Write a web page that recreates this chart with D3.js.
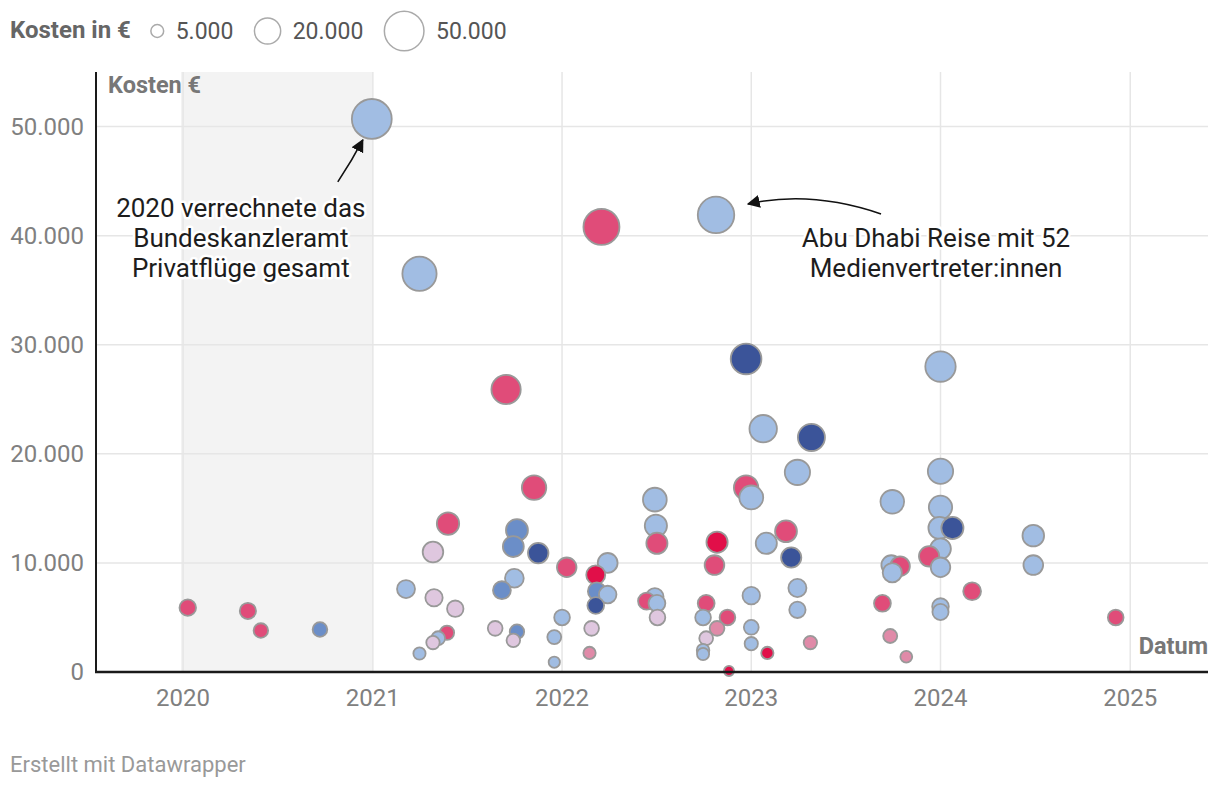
<!DOCTYPE html>
<html>
<head>
<meta charset="utf-8">
<script src="https://cdn.jsdelivr.net/npm/d3@7"></script>
<style>
  body { margin: 0; background: #fff; font-family: Roboto, "Noto Sans", sans-serif; }
  .tick-label { fill: #808080; font-size: 24px; }
  .axis-title { fill: #777; font-size: 23.5px; font-weight: bold; }
  .grid { stroke: #e6e6e6; stroke-width: 1.5; }
  .dot { stroke: #999; stroke-width: 1.8; }
  .note { fill: #1d1d1d; font-size: 26px; paint-order: stroke; stroke: #fff; stroke-width: 5px; stroke-linejoin: round; }
</style>
</head>
<body>
<svg id="chart" width="1220" height="788"></svg>
<script>
// Reisekosten je Flug: Datum, Kosten in Euro, Farbgruppe
const DATEN = [
  "2020-01-10", "2020-05-05", "2020-05-30", "2020-09-21", "2020-12-30",
  "2021-04-01", "2021-03-06", "2021-04-01", "2021-04-27", "2021-04-29",
  "2021-04-27", "2021-05-07", "2021-05-24", "2021-05-26", "2021-06-09",
  "2021-08-25", "2021-09-29", "2021-10-06", "2021-09-07", "2021-10-01",
  "2021-09-29", "2021-10-06", "2021-11-16", "2021-11-08", "2021-09-15",
  "2022-01-10", "2022-01-01", "2021-12-17", "2021-12-17", "2022-03-07",
  "2022-03-30", "2022-03-09", "2022-03-30", "2022-03-07", "2022-02-27",
  "2022-02-23", "2022-03-18", "2022-06-29", "2022-07-01", "2022-07-03",
  "2022-06-29", "2022-07-03", "2022-06-13", "2022-07-04", "2022-10-27",
  "2022-10-22", "2022-10-25", "2022-10-06", "2022-09-30", "2022-11-16",
  "2022-10-27", "2022-10-06", "2022-09-30", "2022-09-30", "2022-11-19",
  "2022-12-22", "2023-01-01", "2022-12-22", "2023-01-01", "2023-01-01",
  "2023-01-01", "2023-01-24", "2023-01-30", "2023-02-01", "2023-03-09",
  "2023-03-19", "2023-03-31", "2023-03-31", "2023-03-31", "2023-04-27",
  "2023-04-25", "2023-09-30", "2023-09-28", "2023-09-30", "2023-10-15",
  "2023-09-11", "2023-09-26", "2023-10-27", "2024-01-01", "2024-01-01",
  "2024-01-01", "2023-12-30", "2024-01-24", "2024-01-01", "2023-12-10",
  "2024-01-01", "2024-03-02", "2024-01-01", "2024-01-01", "2024-06-28",
  "2024-06-28", "2024-12-04"
];

const KOSTEN = [
  5900, 5600, 3800, 3900, 50700,
  36500, 7600, 1700, 11000, 6800,
  2700, 3100, 3600, 13600, 5800,
  4000, 2900, 3700, 7500, 8600,
  11500, 13000, 10900, 16900, 25900,
  9600, 5000, 3200, 900, 8900,
  10000, 7400, 7100, 6100, 4000,
  1750, 40800, 15800, 13400, 11800,
  6900, 6300, 6500, 5000, 11900,
  9800, 41900, 6300, 5000, 5000,
  4000, 3100, 2000, 1650, 100,
  16900, 16000, 28700, 7000, 4100,
  2600, 22300, 11800, 1750, 12900,
  10500, 18300, 7700, 5700, 21500,
  2700, 15600, 9800, 9100, 9700,
  6300, 3300, 1400, 18400, 28000,
  15100, 13200, 13200, 11300, 10600,
  9600, 7400, 6000, 5500, 12500,
  9800, 5000
];

const GRUPPE = [
  "rosa", "rosa", "rosa", "mittelblau", "hellblau",
  "hellblau", "hellblau", "hellblau", "flieder", "flieder",
  "flieder", "hellblau", "rosa", "rosa", "flieder",
  "flieder", "flieder", "mittelblau", "mittelblau", "hellblau",
  "mittelblau", "mittelblau", "dunkelblau", "rosa", "rosa",
  "rosa", "hellblau", "hellblau", "hellblau", "rot",
  "hellblau", "mittelblau", "hellblau", "dunkelblau", "flieder",
  "altrosa", "rosa", "hellblau", "hellblau", "rosa",
  "hellblau", "hellblau", "rosa", "flieder", "rot",
  "rosa", "hellblau", "rosa", "hellblau", "rosa",
  "altrosa", "flieder", "hellblau", "hellblau", "rot",
  "rosa", "hellblau", "dunkelblau", "hellblau", "hellblau",
  "hellblau", "hellblau", "hellblau", "rot", "rosa",
  "dunkelblau", "hellblau", "hellblau", "hellblau", "dunkelblau",
  "altrosa", "hellblau", "hellblau", "hellblau", "rosa",
  "rosa", "altrosa", "altrosa", "hellblau", "hellblau",
  "hellblau", "hellblau", "dunkelblau", "hellblau", "rosa",
  "hellblau", "rosa", "hellblau", "hellblau", "hellblau",
  "hellblau", "rosa"
];

const GRUPPEN = ["hellblau", "mittelblau", "dunkelblau", "rosa", "rot", "altrosa", "flieder"];
const FARBEN = ["#a1bde3", "#6b8ec8", "#3b5499", "#e04c79", "#e10f49", "#e08aa8", "#dfc7df"];

const Y_TICKS = [0, 10000, 20000, 30000, 40000, 50000];
const X_TICKS = [2020, 2021, 2022, 2023, 2024, 2025];
const LEGENDE = [5000, 20000, 50000];

const SVG = d3.select("#chart");
const WIDTH = 1220;
const MARGIN = { top: 72, bottom: 116, left: 96, right: 12 };
const HEIGHT = 788;

const parse = d3.timeParse("%Y-%m-%d");
const DE = d3.formatLocale({ decimal: ",", thousands: ".", grouping: [3], currency: ["", " €"] });
const fmt = DE.format(",.0f");

const SCALE_X = d3.scaleTime()
  .domain([parse("2019-07-17"), parse("2025-05-31")])
  .range([MARGIN.left, WIDTH - MARGIN.right]);

const SCALE_Y = d3.scaleLinear()
  .domain([0, 55000])
  .range([HEIGHT - MARGIN.bottom, MARGIN.top]);

// area grows linearly with cost, with a minimum dot size
const AREA = d3.scaleLinear().domain([0, 50000]).range([5 * 5, 19.8 * 19.8]);
const radius = v => Math.sqrt(AREA(v));

const COLOR = d3.scaleOrdinal().domain(GRUPPEN).range(FARBEN);

const DATA = DATEN.map((d, i) => ({ date: parse(d), value: KOSTEN[i], group: GRUPPE[i] }));

const y0 = SCALE_Y(0);
const yTop = MARGIN.top;

// shaded year 2020
SVG.append("rect")
  .attr("x", SCALE_X(parse("2019-12-28")))
  .attr("y", yTop)
  .attr("width", SCALE_X(parse("2021-01-01")) - SCALE_X(parse("2019-12-28")))
  .attr("height", y0 - yTop)
  .attr("fill", "#f3f3f3");

// gridlines
SVG.selectAll("line.hgrid")
  .data(Y_TICKS.slice(1))
  .enter()
  .append("line")
  .attr("class", "grid")
  .attr("x1", MARGIN.left)
  .attr("x2", WIDTH - MARGIN.right)
  .attr("y1", d => SCALE_Y(d))
  .attr("y2", d => SCALE_Y(d));

SVG.selectAll("line.vgrid")
  .data(X_TICKS)
  .enter()
  .append("line")
  .attr("class", "grid")
  .attr("x1", d => SCALE_X(new Date(d, 0, 1)))
  .attr("x2", d => SCALE_X(new Date(d, 0, 1)))
  .attr("y1", yTop)
  .attr("y2", y0);

// tick labels
SVG.selectAll("text.ylab")
  .data(Y_TICKS)
  .enter()
  .append("text")
  .attr("class", "tick-label")
  .attr("x", 84)
  .attr("y", d => SCALE_Y(d) + 8)
  .attr("text-anchor", "end")
  .text(d => fmt(d));

SVG.selectAll("text.xlab")
  .data(X_TICKS)
  .enter()
  .append("text")
  .attr("class", "tick-label")
  .attr("x", d => SCALE_X(new Date(d, 0, 1)))
  .attr("y", y0 + 34)
  .attr("text-anchor", "middle")
  .text(d => d);

// axis titles
SVG.append("text").attr("class", "axis-title")
  .attr("x", MARGIN.left + 12).attr("y", 93).text("Kosten €");
SVG.append("text").attr("class", "axis-title")
  .attr("x", WIDTH - MARGIN.right).attr("y", 654)
  .attr("text-anchor", "end").text("Datum");

// dots, big ones first so small ones stay visible
SVG.append("g")
  .selectAll("circle")
  .data(DATA.slice().sort((a, b) => b.value - a.value))
  .enter()
  .append("circle")
  .attr("class", "dot")
  .attr("cx", d => SCALE_X(d.date))
  .attr("cy", d => SCALE_Y(d.value))
  .attr("r", d => radius(d.value))
  .attr("fill", d => COLOR(d.group));

// axis lines
SVG.append("line")
  .attr("x1", MARGIN.left).attr("x2", MARGIN.left)
  .attr("y1", yTop).attr("y2", y0 + 1)
  .attr("stroke", "#1a1a1a").attr("stroke-width", 2);
SVG.append("line")
  .attr("x1", MARGIN.left - 1).attr("x2", WIDTH - MARGIN.right)
  .attr("y1", y0).attr("y2", y0)
  .attr("stroke", "#1a1a1a").attr("stroke-width", 2.5);

// annotations
SVG.append("defs").append("marker")
  .attr("id", "head")
  .attr("viewBox", "0 0 10 10")
  .attr("refX", 9).attr("refY", 5)
  .attr("markerWidth", 13).attr("markerHeight", 13)
  .attr("markerUnits", "userSpaceOnUse")
  .attr("orient", "auto")
  .append("path")
  .attr("d", "M0,0 L10,5 L0,10 Z")
  .attr("fill", "#111");

const NOTES = [
  { date: "2020-12-30", value: 50700, lines: ["2020 verrechnete das", "Bundeskanzleramt", "Privatflüge gesamt"],
    tx: -131, ty: 98, arrow: [[-34, 63], [-20, 42], [-9, 21]] },
  { date: "2022-10-25", value: 41900, lines: ["Abu Dhabi Reise mit 52", "Medienvertreter:innen"],
    tx: 220, ty: 32, arrow: [[165, -1], [95, -25], [32, -11]] }
];

NOTES.forEach(n => {
  const px = SCALE_X(parse(n.date));
  const py = SCALE_Y(n.value);
  const a = n.arrow;
  SVG.append("path")
    .attr("d", `M${px + a[0][0]},${py + a[0][1]} Q${px + a[1][0]},${py + a[1][1]} ${px + a[2][0]},${py + a[2][1]}`)
    .attr("fill", "none")
    .attr("stroke", "#111")
    .attr("stroke-width", 1.6)
    .attr("marker-end", "url(#head)");
  const t = SVG.append("text")
    .attr("class", "note")
    .attr("text-anchor", "middle");
  n.lines.forEach((l, i) => {
    t.append("tspan")
      .attr("x", px + n.tx)
      .attr("y", py + n.ty + i * 30)
      .text(l);
  });
});

// size legend
const LEG = SVG.append("g");
const title = LEG.append("text")
  .attr("x", 10).attr("y", 38)
  .attr("fill", "#666").attr("font-size", 24).attr("font-weight", "bold")
  .text("Kosten in €");
let lx = 10 + title.node().getComputedTextLength() + 20;
LEGENDE.forEach(v => {
  const r = v < 10000 ? 6.4 : radius(v);
  LEG.append("circle")
    .attr("cx", lx + r).attr("cy", 31).attr("r", r)
    .attr("fill", "none").attr("stroke", "#aaa").attr("stroke-width", 1.5);
  const lab = LEG.append("text")
    .attr("x", lx + 2 * r + 12).attr("y", 39)
    .attr("fill", "#555").attr("font-size", 23)
    .text(fmt(v));
  lx += 2 * r + 12 + lab.node().getComputedTextLength() + 21;
});

// footer
SVG.append("text")
  .attr("x", 10).attr("y", 772)
  .attr("fill", "#999").attr("font-size", 22)
  .text("Erstellt mit Datawrapper");
</script>
</body>
</html>
